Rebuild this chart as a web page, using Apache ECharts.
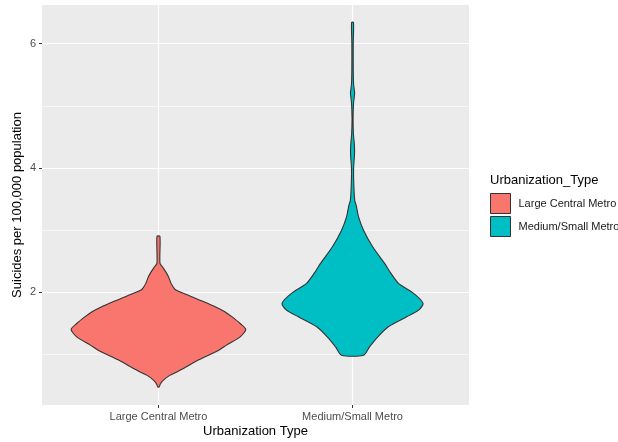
<!DOCTYPE html>
<html>
<head>
<meta charset="utf-8">
<script src="https://cdn.jsdelivr.net/npm/echarts@6/dist/echarts.min.js"></script>
<style>
  html, body { margin: 0; padding: 0; background: #fff; }
  #chart { width: 618px; height: 442px; }
</style>
</head>
<body>
<div id="chart"></div>
<script>
// categories and legend
const categories = ['Large Central Metro', 'Medium/Small Metro']
const colors = ['#F8766D', '#00BFC4']

// violin outlines: y value and relative density (1 = widest violin)
const largeY = [2.90, 2.47, 2.41, 2.33, 2.25, 2.145, 2.064, 2.037, 1.984, 1.93, 1.85, 1.77, 1.69, 1.61, 1.50, 1.405, 1.286, 1.153, 1.07, 0.965, 0.885, 0.804, 0.72, 0.67, 0.59, 0.525, 0.48]
const largeDensity = [0.017, 0.017, 0.046, 0.084, 0.115, 0.145, 0.18, 0.20, 0.29, 0.38, 0.52, 0.65, 0.76, 0.84, 0.936, 1.0, 0.936, 0.78, 0.69, 0.535, 0.42, 0.32, 0.21, 0.134, 0.057, 0.02, 0.01]

const mediumY = [6.34, 6.0, 5.6, 5.35, 5.2, 5.05, 4.8, 4.55, 4.35, 4.2, 4.0, 3.75, 3.48, 3.40, 3.215, 3.0, 2.733, 2.466, 2.305, 2.145, 1.984, 1.823, 1.715, 1.608, 1.447, 1.286, 1.125, 0.99]
const mediumDensity = [0.011, 0.008, 0.008, 0.012, 0.024, 0.012, 0.006, 0.01, 0.022, 0.022, 0.012, 0.014, 0.025, 0.042, 0.069, 0.126, 0.23, 0.367, 0.44, 0.527, 0.70, 0.808, 0.756, 0.62, 0.41, 0.29, 0.195, 0.126]

// axis ticks
const yMajor = [2, 4, 6]
const yMinor = [1, 3, 5]
const xTicks = [1, 2]

const violins = [
  { y: largeY, d: largeDensity },
  { y: mediumY, d: mediumDensity },
]
const halfMax = 0.45

const renderViolin = (params, api) => {
  const v = violins[params.seriesIndex - 1]
  const cx = api.value(0)
  const pts = []
  for (let i = 0; i < v.y.length; i++) {
    pts.push(api.coord([cx + halfMax * v.d[i], v.y[i]]))
  }
  for (let i = v.y.length - 1; i >= 0; i--) {
    pts.push(api.coord([cx - halfMax * v.d[i], v.y[i]]))
  }
  return {
    type: 'polygon',
    shape: { points: pts, smooth: 0.25 },
    style: {
      fill: colors[params.seriesIndex - 1],
      stroke: '#333333',
      lineWidth: 1.1,
    },
  }
}

const gridLines = [
  ...yMinor.map(v => ({ yAxis: v, lineStyle: { width: 0.6 } })),
  ...yMajor.map(v => ({ yAxis: v, lineStyle: { width: 1.2 } })),
  ...xTicks.map(v => ({ xAxis: v, lineStyle: { width: 1.2 } })),
]

const option = {
  backgroundColor: '#ffffff',
  animation: false,
  textStyle: { fontFamily: 'Liberation Sans, Arial, sans-serif' },
  title: {
    text: 'Urbanization_Type',
    left: 490,
    top: 174,
    padding: 0,
    textStyle: { fontSize: 13, fontWeight: 'normal', color: '#000' },
  },
  legend: {
    data: categories,
    orient: 'vertical',
    left: 490,
    top: 193,
    padding: 0,
    itemWidth: 20,
    itemHeight: 20,
    itemGap: 2,
    icon: 'rect',
    itemStyle: { borderColor: '#333333', borderWidth: 1 },
    textStyle: { fontSize: 11, color: '#1a1a1a', padding: [0, 0, 0, 3] },
  },
  grid: {
    left: 42,
    right: 149,
    top: 5,
    bottom: 37,
    outerBoundsMode: 'none',
    containLabel: false,
    show: true,
    backgroundColor: '#EBEBEB',
    borderWidth: 0,
  },
  xAxis: {
    type: 'value',
    min: 0.4,
    max: 2.6,
    name: 'Urbanization Type',
    nameLocation: 'middle',
    nameGap: 20,
    nameMoveOverlap: false,
    nameTextStyle: { fontSize: 13, color: '#000' },
    axisLine: { show: false },
    splitLine: { show: false },
    axisTick: { show: true, customValues: xTicks, length: 3, lineStyle: { color: '#333333' } },
    axisLabel: {
      customValues: xTicks,
      margin: 6,
      fontSize: 11,
      color: '#4D4D4D',
      formatter: v => categories[Math.round(v) - 1],
    },
  },
  yAxis: {
    type: 'value',
    min: 0.19,
    max: 6.62,
    name: 'Suicides per 100,000 population',
    nameLocation: 'middle',
    nameGap: 18,
    nameMoveOverlap: false,
    nameTextStyle: { fontSize: 13, color: '#000' },
    axisLine: { show: false },
    splitLine: { show: false },
    axisTick: { show: true, customValues: yMajor, length: 3, lineStyle: { color: '#333333' } },
    axisLabel: { customValues: yMajor, margin: 6, fontSize: 11, color: '#4D4D4D' },
  },
  series: [
    {
      type: 'line',
      data: [],
      z: 1,
      silent: true,
      markLine: {
        z: 1,
        silent: true,
        symbol: 'none',
        label: { show: false },
        lineStyle: { color: '#ffffff', type: 'solid' },
        data: gridLines,
      },
    },
    {
      name: categories[0],
      type: 'custom',
      z: 3,
      itemStyle: { color: colors[0] },
      renderItem: renderViolin,
      data: [[1]],
    },
    {
      name: categories[1],
      type: 'custom',
      z: 3,
      itemStyle: { color: colors[1] },
      renderItem: renderViolin,
      data: [[2]],
    },
  ],
}

const myChart = echarts.init(document.getElementById('chart'))
myChart.setOption(option)
</script>
</body>
</html>
